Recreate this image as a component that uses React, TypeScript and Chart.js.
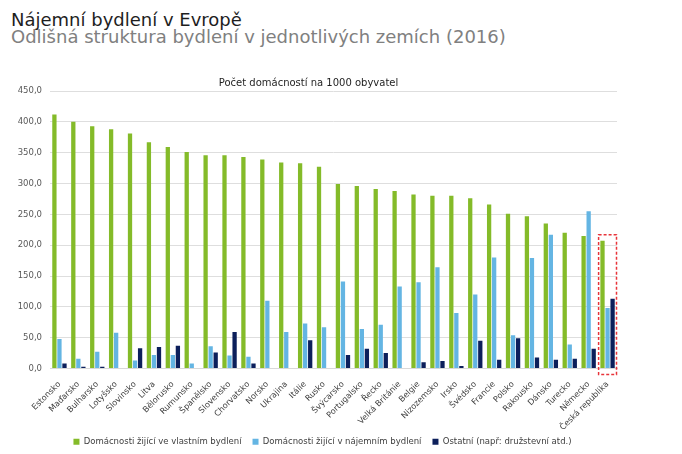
import React, { useEffect, useRef } from "react";
import { Chart, registerables } from "chart.js";

Chart.register(...registerables);

const categories = [
  "Estonsko", "Maďarsko", "Bulharsko", "Lotyšsko", "Slovinsko", "Litva", "Bělorusko",
  "Rumunsko", "Španělsko", "Slovensko", "Chorvatsko", "Norsko", "Ukrajina", "Itálie",
  "Rusko", "Švýcarsko", "Portugalsko", "Řecko", "Velká Británie", "Belgie", "Nizozemsko",
  "Irsko", "Švédsko", "Francie", "Polsko", "Rakousko", "Dánsko", "Turecko", "Německo",
  "Česká republika",
];

const owned = [
  412, 400, 393, 388, 381, 367, 359, 351, 346, 346, 343, 339, 334, 333, 327,
  299, 296, 291, 288, 282, 280, 280, 276, 266, 251, 247, 235, 220, 215, 207,
];

const rented = [
  48, 16, 27, 58, 13, 22, 22, 8, 36, 21, 19, 110, 59, 73, 67,
  141, 64, 71, 133, 140, 164, 90, 120, 180, 54, 179, 217, 39, 255, 98,
];

const other = [
  8, 3, 3, 0, 33, 35, 37, 1, 26, 59, 8, 0, 0, 46, 0,
  22, 32, 25, 0, 10, 12, 4, 45, 14, 49, 18, 14, 16, 32, 113,
];

const seriesNames = [
  "Domácnosti žijící ve vlastním bydlení",
  "Domácnosti žijící v nájemním bydlení",
  "Ostatní (např: družstevní atd.)",
];

const yTicks = { min: 0, max: 450, step: 50 };

const heading = "Nájemní bydlení v Evropě";
const subheading = "Odlišná struktura bydlení v jednotlivých zemích (2016)";
const chartTitle = "Počet domácností na 1000 obyvatel";
const highlightIndex = categories.length - 1;

const FONT = "'DejaVu Sans', Verdana, sans-serif";

const highlightPlugin = {
  id: "highlightBox",
  afterDatasetsDraw(chart: any) {
    const x = chart.scales.x;
    const y = chart.scales.y;
    const ctx = chart.ctx;
    const half = (x.getPixelForValue(1) - x.getPixelForValue(0)) / 2;
    const cx = x.getPixelForValue(highlightIndex);
    const maxVal = Math.max(owned[highlightIndex], rented[highlightIndex], other[highlightIndex]);
    const top = y.getPixelForValue(maxVal + 10);
    const bottom = y.getPixelForValue(0) + 6;
    ctx.save();
    ctx.setLineDash([3, 2]);
    ctx.strokeStyle = "#e8343a";
    ctx.lineWidth = 1.5;
    ctx.strokeRect(cx - half + 0.5, top, half * 2 - 1, bottom - top);
    ctx.restore();
  },
};

const legendShiftPlugin = {
  id: "legendShift",
  afterLayout(chart: any) {
    const lg = chart.legend;
    if (lg) {
      lg.left += 14;
      lg.right += 14;
      lg.top += 2;
      lg.bottom += 2;
    }
    const xs = chart.scales.x;
    if (xs) xs.bottom += 12;
  },
};

export default function App() {
  const canvasRef = useRef<HTMLCanvasElement | null>(null);

  useEffect(() => {
    if (!canvasRef.current) return;
    Chart.defaults.font.family = FONT;
    const chart = new Chart(canvasRef.current, {
      type: "bar",
      data: {
        labels: categories,
        datasets: [
          { label: seriesNames[0], data: owned, backgroundColor: "#84bb29" },
          { label: seriesNames[1], data: rented, backgroundColor: "#64b5e3" },
          { label: seriesNames[2], data: other, backgroundColor: "#0c1f5b" },
        ],
      },
      options: {
        animation: false,
        responsive: true,
        maintainAspectRatio: false,
        datasets: { bar: { categoryPercentage: 0.8, barPercentage: 0.85 } },
        layout: { padding: { top: 77, right: 65, left: 0, bottom: 0 } },
        plugins: {
          tooltip: { enabled: false },
          title: {
            display: true,
            text: chartTitle,
            color: "#1e1e1e",
            font: { size: 10, weight: "normal" },
            padding: { top: 0, bottom: 2 },
          },
          legend: {
            position: "bottom",
            labels: {
              boxWidth: 6,
              boxHeight: 6,
              color: "#404040",
              font: { size: 8.5 },
              padding: 11,
            },
          },
        },
        scales: {
          x: {
            grid: { display: false },
            border: { display: true, color: "#d9d9d9" },
            ticks: {
              autoSkip: false,
              maxRotation: 45,
              minRotation: 45,
              color: "#404040",
              font: { size: 8.2 },
              padding: 3,
            },
            afterFit: (s: any) => {
              s.height = 56;
            },
          },
          y: {
            min: yTicks.min,
            max: yTicks.max,
            border: { display: false },
            grid: { color: "#dedede", drawTicks: false },
            ticks: {
              stepSize: yTicks.step,
              color: "#595959",
              font: { size: 8.5 },
              padding: 8,
              callback: (v: any) => Number(v).toFixed(1).replace(".", ","),
            },
            afterFit: (s: any) => {
              s.width = 50;
            },
          },
        },
      },
      plugins: [highlightPlugin, legendShiftPlugin],
    });
    return () => chart.destroy();
  }, []);

  return (
    <div style={{ position: "absolute", left: 0, top: 0, width: 682, height: 454, background: "#fff" }}>
      <div
        style={{
          position: "absolute",
          left: 11,
          top: 10,
          fontFamily: FONT,
          fontSize: 18,
          lineHeight: "20px",
          color: "#1e1e1e",
          whiteSpace: "nowrap",
        }}
      >
        {heading}
      </div>
      <div
        style={{
          position: "absolute",
          left: 11,
          top: 27,
          fontFamily: FONT,
          fontSize: 18,
          lineHeight: "20px",
          color: "#808080",
          whiteSpace: "nowrap",
        }}
      >
        {subheading}
      </div>
      <div style={{ position: "absolute", left: 0, top: 0, width: 682, height: 454 }}>
        <canvas ref={canvasRef} />
      </div>
    </div>
  );
}
